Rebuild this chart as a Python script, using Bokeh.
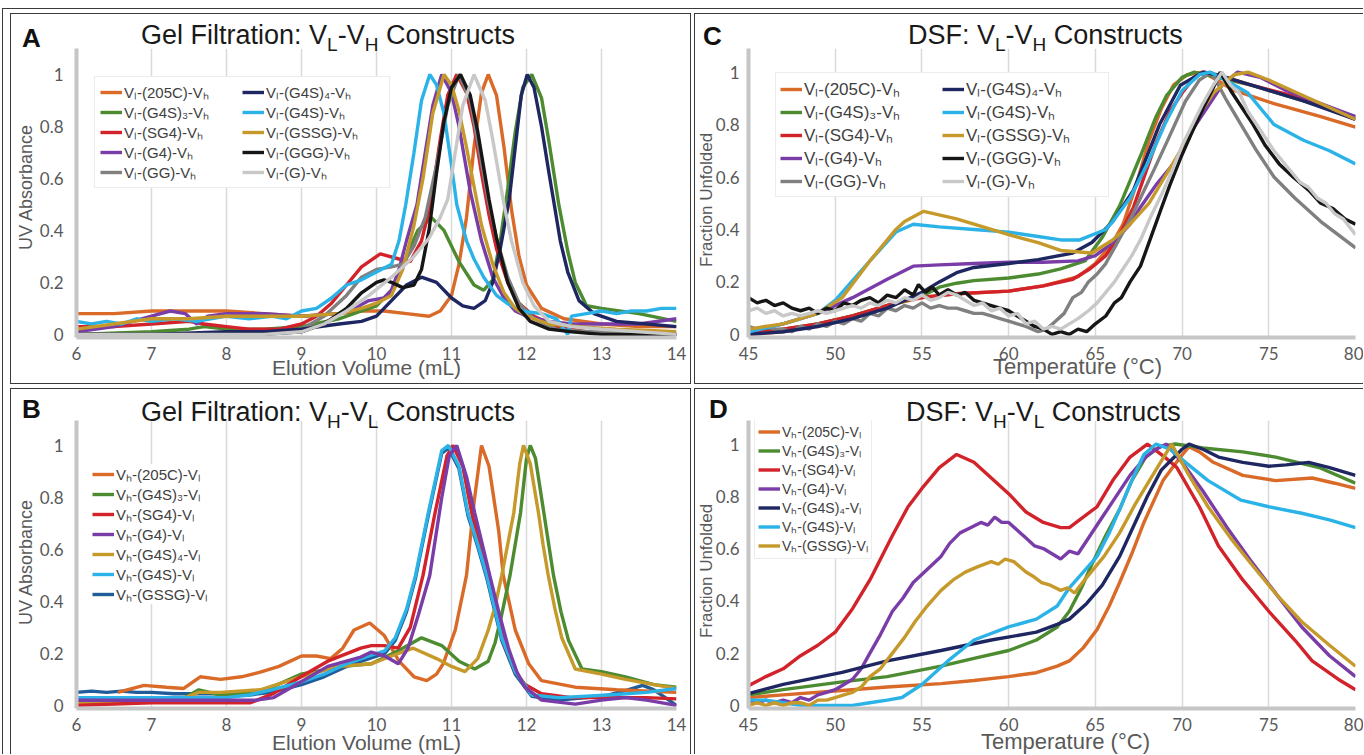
from bokeh.plotting import figure
from bokeh.models import Legend, LegendItem, FixedTicker, Range1d, CustomJSTickFormatter, Div, GridBox
from bokeh.embed import file_html
from bokeh.resources import INLINE

# ---------------- text ----------------
SL, SH, S3, S4 = "\u2097", "\u2095", "\u2083", "\u2084"
LINK_A = ["(205C)", "(G4S)" + S3, "(SG4)", "(G4)", "(GG)", "(G4S)" + S4, "(G4S)", "(GSSG)", "(GGG)", "(G)"]
LINK_B = ["(205C)", "(G4S)" + S3, "(SG4)", "(G4)", "(G4S)" + S4, "(G4S)", "(GSSG)"]
TITLE_GF = "Gel Filtration: "
TITLE_DSF = "DSF: "
TITLE_END = " Constructs"
GF_XLABEL = "Elution Volume (mL)"
GF_YLABEL = "UV Absorbance"
DSF_XLABEL = "Temperature (\u00b0C)"
DSF_YLABEL = "Fraction Unfolded"
PANEL_LETTERS = ["A", "B", "C", "D"]
GF_XTICKS = [6, 7, 8, 9, 10, 11, 12, 13, 14]
DSF_XTICKS = [45, 50, 55, 60, 65, 70, 75, 80]
Y_TICKS = [0, 0.2, 0.4, 0.6, 0.8, 1.0]

# ---------------- colours ----------------
ORANGE, GREEN, RED, PURPLE = "#DA6A28", "#4D8B31", "#D2232A", "#7A3DA8"
GRAY, NAVY, CYAN, GOLD = "#808080", "#1E2761", "#2BB3E8", "#C6992B"
BLACK, LGRAY, DBLUE = "#161616", "#C8C8C8", "#1F5C99"

# ---------------- A: gel filtration VL-VH (elution mL, absorbance) ----------------
A_205C = [(6,0.08),(6.5,0.08),(7,0.09),(7.5,0.09),(8,0.09),(8.5,0.08),(9,0.07),(9.5,0.08),(9.8,0.09),(10.1,0.09),(10.4,0.08),(10.7,0.07),(10.85,0.09),(11.0,0.15),(11.1,0.27),(11.2,0.45),(11.3,0.72),(11.4,0.93),(11.49,1.0),(11.6,0.92),(11.7,0.72),(11.8,0.48),(11.9,0.30),(12.0,0.19),(12.2,0.10),(12.5,0.06),(13.0,0.04),(13.5,0.03),(14,0.03)]
A_G4S3 = [(6,0.0),(7,0.01),(7.5,0.02),(7.7,0.03),(8,0.02),(8.5,0.02),(9,0.03),(9.5,0.06),(9.8,0.09),(10.0,0.11),(10.2,0.17),(10.4,0.30),(10.55,0.40),(10.73,0.45),(10.9,0.40),(11.1,0.28),(11.3,0.19),(11.43,0.17),(11.55,0.21),(11.65,0.36),(11.75,0.56),(11.85,0.78),(11.95,0.95),(12.07,1.0),(12.2,0.91),(12.3,0.74),(12.43,0.5),(12.55,0.32),(12.65,0.2),(12.8,0.11),(13.0,0.10),(13.5,0.08),(14,0.05)]
A_SG4 = [(6,0.03),(6.5,0.03),(7,0.04),(7.5,0.05),(7.7,0.04),(8.0,0.03),(8.3,0.02),(8.7,0.02),(9.0,0.04),(9.2,0.07),(9.4,0.12),(9.6,0.19),(9.8,0.26),(10.05,0.31),(10.3,0.29),(10.45,0.28),(10.6,0.36),(10.72,0.50),(10.85,0.75),(10.95,0.92),(11.07,1.0),(11.2,0.93),(11.3,0.80),(11.4,0.62),(11.5,0.46),(11.6,0.33),(11.75,0.20),(11.9,0.12),(12.1,0.07),(12.4,0.03),(12.8,0.01),(13.5,0.0),(14,0.0)]
A_G4 = [(6,0.01),(6.5,0.03),(7.0,0.07),(7.25,0.09),(7.45,0.08),(7.6,0.04),(7.75,0.07),(8.0,0.08),(8.5,0.08),(9.0,0.07),(9.5,0.08),(9.7,0.10),(9.9,0.13),(10.1,0.14),(10.2,0.17),(10.3,0.25),(10.4,0.36),(10.54,0.5),(10.65,0.7),(10.75,0.88),(10.87,1.0),(11.0,0.93),(11.1,0.80),(11.25,0.55),(11.4,0.36),(11.55,0.22),(11.7,0.14),(11.85,0.09),(12.0,0.07),(12.3,0.05),(12.6,0.04),(13.0,0.04),(13.5,0.04),(14,0.06)]
A_GG = [(6,0.0),(8.5,0.0),(9.0,0.02),(9.3,0.07),(9.6,0.15),(9.8,0.22),(10.0,0.25),(10.2,0.26),(10.35,0.27),(10.5,0.34),(10.65,0.45),(10.8,0.65),(10.95,0.88),(11.1,1.0),(11.25,0.90),(11.4,0.66),(11.5,0.50),(11.6,0.37),(11.75,0.22),(11.9,0.12),(12.1,0.06),(12.4,0.02),(12.8,0.01),(13.5,0.01),(14,0.0)]
A_G4S4 = [(6,0.0),(7,0.0),(8,0.01),(8.5,0.01),(9.0,0.02),(9.5,0.04),(9.8,0.05),(10.0,0.07),(10.2,0.13),(10.4,0.19),(10.6,0.22),(10.8,0.20),(11.0,0.14),(11.15,0.11),(11.3,0.10),(11.45,0.13),(11.55,0.20),(11.65,0.33),(11.77,0.52),(11.85,0.72),(11.93,0.92),(12.01,1.0),(12.1,0.95),(12.2,0.80),(12.3,0.62),(12.37,0.5),(12.45,0.36),(12.55,0.24),(12.7,0.13),(12.9,0.08),(13.2,0.05),(13.6,0.04),(14,0.03)]
A_G4S = [(6.0,0.05),(6.2,0.04),(6.4,0.05),(6.6,0.04),(6.8,0.06),(7.0,0.05),(7.3,0.06),(7.6,0.05),(8.0,0.07),(8.3,0.06),(8.6,0.07),(8.8,0.06),(9.0,0.09),(9.2,0.10),(9.4,0.14),(9.6,0.19),(9.8,0.21),(10.0,0.24),(10.2,0.27),(10.3,0.36),(10.39,0.5),(10.5,0.70),(10.6,0.90),(10.71,1.0),(10.8,0.96),(10.9,0.85),(11.0,0.65),(11.07,0.5),(11.2,0.36),(11.3,0.29),(11.43,0.22),(11.6,0.15),(11.74,0.12),(11.94,0.09),(12.2,0.08),(12.4,0.06),(12.5,0.02),(12.55,0.0),(12.6,0.07),(12.8,0.08),(13.0,0.09),(13.2,0.08),(13.4,0.09),(13.6,0.09),(13.8,0.10),(14.0,0.10)]
A_GSSG = [(6,0.02),(6.5,0.04),(7.0,0.06),(7.5,0.06),(8.0,0.07),(8.5,0.07),(9.0,0.07),(9.5,0.08),(9.8,0.10),(10.0,0.12),(10.2,0.15),(10.35,0.25),(10.5,0.42),(10.62,0.6),(10.75,0.85),(10.9,1.0),(11.0,0.96),(11.1,0.86),(11.2,0.72),(11.3,0.57),(11.4,0.42),(11.55,0.27),(11.7,0.16),(11.85,0.10),(12.0,0.07),(12.3,0.04),(12.7,0.03),(13.2,0.02),(14,0.01)]
A_GGG = [(6,0.0),(8.5,0.0),(9.0,0.01),(9.3,0.04),(9.6,0.10),(9.8,0.16),(10.0,0.20),(10.1,0.21),(10.2,0.20),(10.35,0.18),(10.5,0.19),(10.6,0.25),(10.7,0.40),(10.8,0.62),(10.9,0.82),(11.0,0.95),(11.12,1.0),(11.25,0.92),(11.35,0.78),(11.5,0.52),(11.6,0.37),(11.75,0.20),(11.9,0.10),(12.05,0.05),(12.3,0.02),(12.6,0.01),(13,0.0),(14,0.0)]
A_G = [(6,0.0),(8.5,0.0),(9.0,0.01),(9.3,0.04),(9.6,0.09),(9.9,0.15),(10.2,0.22),(10.5,0.30),(10.7,0.37),(10.85,0.45),(10.95,0.52),(11.05,0.70),(11.15,0.88),(11.3,1.0),(11.45,0.90),(11.55,0.75),(11.7,0.5),(11.8,0.36),(11.95,0.20),(12.1,0.11),(12.3,0.05),(12.6,0.03),(13,0.02),(13.5,0.01),(14,0.0)]

# ---------------- B: gel filtration VH-VL ----------------
B_205C = [(6.55,0.05),(6.9,0.077),(7.2,0.07),(7.43,0.065),(7.65,0.11),(7.92,0.10),(8.2,0.11),(8.45,0.128),(8.7,0.15),(9.0,0.19),(9.2,0.19),(9.39,0.18),(9.55,0.22),(9.7,0.29),(9.91,0.317),(10.1,0.27),(10.3,0.17),(10.5,0.11),(10.67,0.095),(10.8,0.12),(10.89,0.16),(11.05,0.29),(11.2,0.5),(11.3,0.78),(11.4,1.0),(11.5,0.92),(11.63,0.67),(11.69,0.5),(11.85,0.29),(12.03,0.16),(12.2,0.095),(12.65,0.07),(13.2,0.06),(14.0,0.05)]
B_G4S3 = [(6.0,0.013),(7.0,0.02),(7.45,0.03),(7.63,0.06),(7.92,0.04),(8.45,0.05),(8.99,0.12),(9.56,0.15),(9.93,0.16),(10.29,0.21),(10.6,0.26),(10.87,0.23),(11.1,0.17),(11.31,0.14),(11.49,0.17),(11.58,0.24),(11.67,0.35),(11.78,0.5),(11.92,0.74),(12.0,0.95),(12.05,1.0),(12.12,0.95),(12.2,0.8),(12.28,0.65),(12.36,0.5),(12.46,0.36),(12.56,0.25),(12.74,0.14),(13.0,0.13),(13.32,0.11),(13.7,0.08),(14.0,0.07)]
B_SG4 = [(6.0,0.0),(7.0,0.01),(8.0,0.01),(8.32,0.01),(8.63,0.046),(8.99,0.11),(9.35,0.17),(9.79,0.22),(9.93,0.23),(10.1,0.23),(10.29,0.22),(10.45,0.30),(10.62,0.5),(10.78,0.74),(10.94,0.96),(11.02,1.0),(11.15,0.92),(11.27,0.74),(11.38,0.62),(11.49,0.5),(11.6,0.36),(11.71,0.23),(11.85,0.13),(11.98,0.08),(12.2,0.045),(12.6,0.03),(13.1,0.03),(13.6,0.03),(14.0,0.025)]
B_G4 = [(6.0,0.02),(7.0,0.02),(8.0,0.02),(8.4,0.02),(8.63,0.03),(8.99,0.09),(9.35,0.15),(9.79,0.186),(9.93,0.205),(10.11,0.19),(10.29,0.16),(10.42,0.22),(10.56,0.35),(10.71,0.5),(10.87,0.8),(10.97,0.96),(11.07,1.0),(11.2,0.88),(11.31,0.74),(11.41,0.62),(11.51,0.5),(11.63,0.36),(11.76,0.22),(11.87,0.13),(11.98,0.07),(12.2,0.02),(12.65,0.005),(13.0,0.02),(13.32,0.03),(13.6,0.02),(14.0,0.0)]
B_G4S4 = [(6.0,0.01),(7.0,0.02),(7.45,0.03),(7.63,0.05),(7.92,0.05),(8.45,0.06),(8.99,0.11),(9.5,0.15),(9.93,0.16),(10.2,0.19),(10.49,0.22),(10.8,0.18),(11.0,0.15),(11.18,0.13),(11.35,0.18),(11.49,0.29),(11.58,0.38),(11.67,0.5),(11.83,0.74),(11.91,0.93),(11.96,1.0),(12.05,0.93),(12.16,0.74),(12.22,0.62),(12.29,0.5),(12.38,0.37),(12.47,0.26),(12.65,0.14),(13.0,0.12),(13.32,0.10),(13.7,0.08),(14.0,0.065)]
B_G4S = [(6.0,0.03),(6.5,0.03),(7.0,0.03),(7.5,0.03),(8.0,0.03),(8.3,0.04),(8.6,0.06),(9.0,0.09),(9.3,0.12),(9.6,0.16),(9.9,0.19),(10.11,0.21),(10.25,0.26),(10.4,0.37),(10.52,0.5),(10.69,0.74),(10.87,0.98),(10.96,1.0),(11.1,0.92),(11.22,0.74),(11.35,0.62),(11.47,0.5),(11.57,0.38),(11.67,0.26),(11.85,0.13),(12.07,0.04),(12.43,0.03),(13.1,0.04),(13.6,0.05),(14.0,0.065)]
B_GSSG = [(6.0,0.05),(6.2,0.055),(6.4,0.05),(6.6,0.055),(6.8,0.05),(7.0,0.05),(7.3,0.045),(7.6,0.045),(8.0,0.045),(8.3,0.04),(8.6,0.05),(9.0,0.08),(9.3,0.11),(9.6,0.15),(9.9,0.18),(10.11,0.20),(10.25,0.25),(10.4,0.36),(10.52,0.49),(10.69,0.73),(10.87,0.97),(10.96,0.99),(11.1,0.91),(11.22,0.73),(11.35,0.61),(11.47,0.49),(11.57,0.37),(11.67,0.25),(11.85,0.12),(12.07,0.035),(12.43,0.02),(12.8,0.03),(13.1,0.04),(13.35,0.06),(13.55,0.077),(13.7,0.06),(13.85,0.03),(14.0,0.0)]

# ---------------- C: DSF VL-VH (temperature C, fraction unfolded) ----------------
C_205C = [(45,0.0),(47,0.01),(49,0.04),(51,0.07),(53,0.11),(55,0.14),(57,0.155),(60,0.165),(62,0.185),(64,0.22),(65,0.27),(66,0.35),(66.6,0.42),(67.4,0.58),(68.1,0.74),(68.8,0.86),(69.5,0.95),(70.3,0.99),(71.2,1.0),(72,0.97),(73,0.93),(75.3,0.88),(78,0.83),(80,0.79)]
C_G4S3 = [(45,0.01),(47,0.02),(49,0.04),(51,0.07),(53,0.11),(55,0.145),(56,0.18),(57,0.195),(58,0.205),(60,0.215),(61.7,0.23),(63,0.25),(64.4,0.28),(65.4,0.37),(66.4,0.49),(67.6,0.68),(68.5,0.83),(69.1,0.91),(70,0.98),(70.7,1.0),(72,0.98),(74,0.95),(77,0.89),(80,0.83)]
C_SG4 = [(45,0.0),(47,0.02),(49,0.04),(51,0.07),(52.5,0.10),(54,0.13),(55.5,0.145),(57,0.155),(60,0.165),(62,0.185),(63.7,0.21),(64.7,0.25),(65.6,0.30),(66.4,0.38),(67.2,0.485),(68.5,0.73),(69.3,0.85),(70,0.92),(70.7,0.98),(71.3,1.0),(72.5,0.98),(74,0.95),(77,0.90),(80,0.82)]
C_G4 = [(45,0.01),(47,0.04),(49,0.08),(51,0.14),(53,0.21),(54.5,0.26),(56,0.265),(58,0.27),(60,0.275),(62,0.275),(64,0.28),(65,0.30),(66,0.35),(67,0.42),(67.6,0.485),(68.5,0.57),(69.5,0.65),(70.5,0.77),(71.4,0.86),(72.3,0.95),(73.2,1.0),(74.5,0.98),(76,0.93),(78,0.88),(80,0.83)]
C_GG = [(45,0.03),(45.5,0.02),(46,0.03),(46.5,0.02),(47,0.02),(47.5,0.01),(48,0.03),(48.5,0.02),(49,0.04),(49.5,0.03),(50,0.05),(50.5,0.04),(51,0.06),(51.5,0.05),(52,0.08),(52.5,0.07),(53,0.10),(53.5,0.09),(54,0.11),(54.5,0.10),(55,0.12),(55.5,0.10),(56,0.11),(56.5,0.10),(57,0.10),(57.5,0.09),(58,0.08),(58.5,0.08),(59,0.07),(59.5,0.06),(60,0.05),(60.5,0.04),(61,0.03),(61.7,0.01),(62.2,0.02),(62.7,0.05),(63.2,0.08),(63.7,0.14),(64.2,0.16),(64.6,0.20),(65.1,0.23),(65.6,0.27),(66.1,0.33),(66.6,0.39),(67.1,0.45),(67.6,0.52),(68.4,0.63),(69.1,0.73),(70.2,0.89),(71,0.97),(71.7,1.0),(72.5,0.90),(73.4,0.80),(74.3,0.70),(75.3,0.60),(76.5,0.52),(78,0.43),(80,0.33)]
C_G4S4 = [(45,0.0),(47,0.01),(49,0.03),(51,0.06),(53,0.10),(55,0.16),(56,0.20),(57,0.235),(58,0.255),(60,0.27),(61.7,0.285),(63.7,0.31),(64.8,0.35),(66,0.43),(67.2,0.55),(68.7,0.80),(69.9,0.95),(71.2,1.0),(72,0.99),(73,0.97),(75,0.93),(77,0.89),(80,0.82)]
C_G4S = [(45,0.01),(47,0.04),(49,0.08),(50,0.13),(52,0.28),(53.5,0.39),(54.5,0.42),(56,0.41),(58,0.40),(60,0.39),(61.7,0.373),(63,0.36),(64.1,0.36),(65.6,0.40),(66,0.43),(67,0.52),(68,0.65),(69,0.80),(70,0.93),(71,0.99),(71.6,1.0),(72.5,0.97),(73.8,0.92),(75.3,0.80),(77,0.74),(78.5,0.70),(80,0.65)]
C_GSSG = [(45,0.02),(47,0.04),(49,0.08),(50.4,0.14),(52,0.28),(53.5,0.40),(54,0.43),(55.1,0.469),(57,0.44),(59,0.40),(60,0.38),(61.7,0.35),(63,0.32),(64.8,0.31),(66,0.36),(67,0.42),(68.1,0.50),(69,0.60),(69.9,0.70),(71,0.84),(71.8,0.92),(73,0.99),(73.8,1.0),(75,0.97),(77,0.91),(79,0.85),(80,0.82)]
C_GGG = [(45,0.14),(45.5,0.12),(46,0.13),(46.5,0.11),(47,0.12),(47.5,0.10),(48,0.09),(48.5,0.10),(49,0.08),(49.5,0.10),(50,0.09),(50.5,0.12),(51,0.11),(51.5,0.13),(52,0.14),(52.5,0.12),(53,0.15),(53.5,0.14),(54,0.17),(54.5,0.15),(54.8,0.19),(55.2,0.16),(55.6,0.18),(56,0.15),(56.5,0.17),(57,0.15),(57.5,0.16),(58,0.13),(58.5,0.12),(59,0.11),(59.5,0.10),(60,0.09),(60.5,0.07),(61,0.05),(61.5,0.03),(62,0.02),(62.5,0.0),(63,0.01),(63.5,0.0),(64,0.02),(64.5,0.01),(65,0.04),(65.6,0.07),(66.1,0.12),(66.5,0.14),(67,0.20),(67.6,0.26),(68.2,0.37),(68.8,0.48),(69.3,0.57),(69.9,0.67),(70.5,0.76),(71.2,0.86),(71.8,0.94),(72.2,1.0),(72.8,0.93),(73.4,0.87),(74.1,0.80),(74.8,0.72),(75.6,0.65),(76.4,0.60),(77.3,0.55),(78,0.50),(78.7,0.48),(79.4,0.44),(80,0.42)]
C_G = [(45,0.09),(45.5,0.10),(46,0.08),(46.5,0.09),(47,0.07),(47.5,0.08),(48,0.07),(48.5,0.08),(49,0.09),(49.5,0.08),(50,0.09),(50.5,0.10),(51,0.11),(51.5,0.10),(52,0.12),(52.5,0.11),(53,0.13),(53.5,0.12),(54,0.14),(54.5,0.13),(55,0.15),(55.5,0.13),(56,0.14),(56.5,0.16),(57,0.15),(57.5,0.13),(58,0.11),(58.5,0.12),(59,0.09),(59.5,0.10),(60,0.07),(60.5,0.08),(61,0.04),(61.5,0.05),(62,0.02),(62.5,0.03),(63,0.02),(63.5,0.04),(64,0.06),(64.6,0.09),(65.1,0.12),(65.6,0.16),(66.1,0.20),(66.6,0.25),(67.1,0.30),(67.6,0.36),(68.2,0.45),(68.8,0.53),(69.4,0.62),(70,0.72),(70.6,0.80),(71.2,0.88),(71.8,0.95),(72.3,1.0),(72.8,0.95),(73.3,0.92),(73.8,0.85),(74.3,0.80),(74.8,0.75),(75.3,0.70),(75.8,0.66),(76.3,0.62),(76.8,0.58),(77.3,0.56),(77.8,0.52),(78.3,0.50),(78.8,0.46),(79.3,0.44),(80,0.38)]

# ---------------- D: DSF VH-VL ----------------
D_205C = [(45,0.03),(47,0.04),(50.4,0.057),(53,0.07),(56.1,0.083),(58,0.095),(60,0.11),(61.6,0.125),(62.8,0.15),(63.5,0.17),(64.3,0.22),(65.1,0.29),(65.8,0.38),(66.4,0.47),(67.1,0.58),(67.8,0.70),(68.9,0.86),(69.9,0.95),(70.4,0.99),(71.0,0.97),(71.8,0.93),(73.5,0.88),(75.4,0.86),(77.5,0.87),(78.8,0.85),(80,0.83)]
D_G4S3 = [(45,0.04),(47,0.06),(50.4,0.09),(53,0.11),(56.1,0.15),(58,0.18),(60,0.21),(61.6,0.25),(62.8,0.30),(63.5,0.36),(64.2,0.45),(64.8,0.54),(65.6,0.65),(66.4,0.75),(67.1,0.86),(67.9,0.95),(68.7,0.99),(69.6,1.0),(71.2,0.985),(73.5,0.97),(75.4,0.95),(77.9,0.91),(80,0.85)]
D_SG4 = [(45,0.075),(46,0.11),(47,0.14),(48,0.19),(49,0.23),(50,0.28),(51,0.37),(52,0.48),(53.3,0.65),(54.2,0.76),(55,0.83),(56,0.91),(57,0.96),(58,0.93),(59,0.87),(60,0.81),(61,0.74),(62,0.70),(63,0.68),(63.5,0.68),(64.3,0.72),(65.1,0.76),(66,0.86),(67,0.95),(68,1.0),(69,0.95),(69.7,0.91),(71,0.76),(72.1,0.61),(73.5,0.48),(75,0.36),(76.5,0.25),(77.5,0.17),(79,0.10),(80,0.06)]
D_G4 = [(45,0.02),(45.5,0.01),(46,0.02),(46.5,0.01),(47,0.02),(47.5,0.01),(48,0.03),(48.5,0.02),(49,0.04),(49.5,0.05),(50,0.06),(50.5,0.08),(51,0.10),(51.5,0.14),(52,0.20),(52.6,0.27),(53.3,0.36),(53.9,0.41),(54.5,0.47),(55.3,0.52),(56.1,0.57),(56.6,0.62),(57.2,0.66),(57.8,0.68),(58.4,0.70),(58.8,0.69),(59.2,0.72),(59.6,0.70),(60,0.70),(60.5,0.67),(61,0.64),(61.5,0.61),(62,0.60),(62.5,0.58),(63,0.56),(63.5,0.59),(64,0.58),(64.5,0.63),(65.3,0.71),(66.1,0.79),(67,0.88),(67.9,0.95),(68.5,0.98),(69.1,1.0),(70,0.93),(71.2,0.82),(72.6,0.68),(74,0.55),(75.5,0.42),(76.9,0.30),(78.5,0.19),(80,0.11)]
D_G4S4 = [(45,0.045),(47,0.08),(50.4,0.126),(53,0.17),(56.1,0.21),(59,0.25),(61.6,0.28),(62.8,0.31),(63.5,0.33),(64.5,0.39),(65.4,0.46),(66.4,0.57),(67.3,0.70),(68,0.80),(68.8,0.90),(70,0.98),(70.4,1.0),(71.2,0.98),(72.1,0.95),(73.5,0.93),(75,0.915),(76,0.92),(77.3,0.93),(78.5,0.91),(80,0.88)]
D_G4S = [(45,0.02),(46,0.02),(47,0.01),(48,0.0),(49,0.0),(50,0.0),(51,0.0),(52,0.01),(53,0.02),(53.85,0.03),(55,0.08),(56.5,0.17),(58,0.25),(60,0.30),(61.6,0.33),(62.8,0.38),(63.5,0.45),(64.3,0.51),(65.1,0.57),(65.8,0.66),(66.4,0.75),(67.1,0.86),(67.8,0.96),(68.5,1.0),(69.3,0.98),(70.2,0.93),(71.5,0.86),(73.4,0.785),(75,0.76),(76.9,0.735),(78.5,0.71),(80,0.68)]
D_GSSG = [(45,0.0),(45.5,0.01),(46,0.0),(46.5,0.01),(47,0.0),(47.5,0.01),(48,0.01),(48.5,0.0),(49,0.02),(49.5,0.02),(50,0.03),(50.5,0.04),(51,0.05),(51.5,0.07),(52,0.11),(52.6,0.14),(53.3,0.20),(54,0.26),(54.6,0.32),(55.3,0.38),(56.1,0.44),(56.8,0.48),(57.5,0.51),(58.2,0.53),(59,0.55),(59.4,0.54),(59.8,0.56),(60.3,0.55),(61,0.51),(61.5,0.49),(61.9,0.47),(62.4,0.46),(63,0.44),(63.4,0.45),(63.8,0.43),(64.5,0.49),(65.5,0.57),(66.4,0.66),(67.3,0.77),(68.3,0.88),(69.4,1.0),(70.4,0.88),(71.5,0.76),(72.8,0.64),(74,0.54),(75.5,0.42),(76.9,0.32),(78.5,0.23),(80,0.15)]

# ---------------- style ----------------
FONT_CSS = "'Liberation Sans', Arial, Helvetica, sans-serif"
TICK_FONT = "Lato, sans-serif"
LEG_FONT = "Liberation Sans, Arial, sans-serif"
AXIS_GRAY = "#595959"
BORDER = "1.5px solid #3a3a3a"
LINE_W = 3.4


def make_panel(width, height, xr, yr, borders, xticks, ystand):
    left, right, top, bottom = borders
    p = figure(width=width, height=height, x_range=Range1d(*xr), y_range=Range1d(*yr),
               output_backend="svg", toolbar_location=None,
               min_border_left=left, min_border_right=right,
               min_border_top=top, min_border_bottom=bottom)
    p.xaxis.ticker = FixedTicker(ticks=xticks)
    p.yaxis.ticker = FixedTicker(ticks=Y_TICKS)
    p.yaxis.formatter = CustomJSTickFormatter(code="return tick.toString();")
    for ax in (p.xaxis[0], p.yaxis[0]):
        ax.axis_line_color = "#C6C6C6"
        ax.axis_line_width = 4
        ax.major_tick_line_color = None
        ax.minor_tick_line_color = None
        ax.major_label_text_font = TICK_FONT
        ax.major_label_text_font_size = "17px"
        ax.major_label_text_color = AXIS_GRAY
    p.xaxis.major_label_standoff = 3
    p.yaxis.major_label_standoff = ystand
    p.xgrid.grid_line_color = "#D9D9D9"
    p.xgrid.grid_line_width = 1.5
    p.ygrid.grid_line_color = None
    p.outline_line_color = None
    p.background_fill_color = "white"
    p.border_fill_color = "white"
    return p


def add_series(p, series, draw_order):
    rends = {}
    for i in draw_order:
        lbl, color, pts = series[i]
        rends[i] = p.line([a for a, b in pts], [b for a, b in pts], line_color=color, line_width=LINE_W)
    return [LegendItem(label=series[i][0], renderers=[rends[i]]) for i in range(len(series))]


def add_legend(p, items, loc, ncols, lh, spacing, padding, fsize, border, lw):
    lg = Legend(items=items, location=loc, ncols=ncols, orientation="vertical",
                label_height=lh, glyph_height=lh, glyph_width=22, spacing=spacing,
                padding=padding, margin=0, label_standoff=2, label_width=lw,
                label_text_font=LEG_FONT, label_text_font_size=fsize,
                label_text_color="#404040",
                border_line_color="#D9D9D9" if border else None,
                background_fill_color="white", background_fill_alpha=1.0)
    p.add_layout(lg)


def sub(t, fs):
    return ('<span style="font-size:%dpx;vertical-align:-%dpx;line-height:0;">%s</span>'
            % (round(fs * 0.7), round(fs * 0.27), t))


def html(content, fs, color, weight="normal", lh=None):
    lh = lh or fs
    return ('<div style="font-family:%s;font-size:%dpx;line-height:%dpx;color:%s;'
            'font-weight:%s;white-space:nowrap;">%s</div>'
            % (FONT_CSS, fs, lh, color, weight, content))


def text_div(content, left, top, width, height, rotate=False):
    st = {"z-index": "5"}
    if rotate:
        st["transform"] = "rotate(-90deg)"
        st["transform-origin"] = "0 0"
    return Div(text=content, width=width, height=height, margin=(top, 0, 0, left),
               align="start", styles=st)


def box_div(left, top, width, height, sides):
    css = "".join("border-%s:%s;" % (s, BORDER) for s in sides)
    inner = ('<div style="box-sizing:border-box;width:%dpx;height:%dpx;%s"></div>'
             % (width, height, css))
    return Div(text=inner, width=width, height=height, margin=(top, 0, 0, left),
               align="start", styles={"z-index": "6"})


def vl_vh(link):
    return "V" + SL + "-" + link + "-V" + SH


def vh_vl(link):
    return "V" + SH + "-" + link + "-V" + SL


def title_html(prefix, first, second):
    return html(prefix + "V" + sub(first, 27) + "-V" + sub(second, 27) + TITLE_END,
                27, "#1a1a1a", lh=27)


# ---- panel A (page 0,0) ----
pA = make_panel(691, 385, (6, 14), (-0.012, 1.1), (76, 15, 48, 48), GF_XTICKS, 7)
A_SERIES = [(vl_vh(LINK_A[0]), ORANGE, A_205C), (vl_vh(LINK_A[1]), GREEN, A_G4S3),
            (vl_vh(LINK_A[2]), RED, A_SG4), (vl_vh(LINK_A[3]), PURPLE, A_G4),
            (vl_vh(LINK_A[4]), GRAY, A_GG), (vl_vh(LINK_A[5]), NAVY, A_G4S4),
            (vl_vh(LINK_A[6]), CYAN, A_G4S), (vl_vh(LINK_A[7]), GOLD, A_GSSG),
            (vl_vh(LINK_A[8]), BLACK, A_GGG), (vl_vh(LINK_A[9]), LGRAY, A_G)]
add_legend(pA, add_series(pA, A_SERIES, list(range(10))), (18, 149), 2, 18, 0, 5, "15px", True, 118)

# ---- panel C (page 691,0) ----
pC = make_panel(672, 385, (45, 80), (-0.012, 1.09), (57, 8, 42, 48), DSF_XTICKS, 3)
C_SERIES = [(vl_vh(LINK_A[0]), ORANGE, C_205C), (vl_vh(LINK_A[1]), GREEN, C_G4S3),
            (vl_vh(LINK_A[2]), RED, C_SG4), (vl_vh(LINK_A[3]), PURPLE, C_G4),
            (vl_vh(LINK_A[4]), GRAY, C_GG), (vl_vh(LINK_A[5]), NAVY, C_G4S4),
            (vl_vh(LINK_A[6]), CYAN, C_G4S), (vl_vh(LINK_A[7]), GOLD, C_GSSG),
            (vl_vh(LINK_A[8]), BLACK, C_GGG), (vl_vh(LINK_A[9]), LGRAY, C_G)]
add_legend(pC, add_series(pC, C_SERIES, list(range(10))), (27, 140), 2, 20, 0, 4, "17px", True, 138)

# ---- panel B (page 0,385) ----
pB = make_panel(691, 369, (6, 14), (-0.012, 1.096), (76, 15, 35, 46), GF_XTICKS, 7)
B_SERIES = [(vh_vl(LINK_B[0]), ORANGE, B_205C), (vh_vl(LINK_B[1]), GREEN, B_G4S3),
            (vh_vl(LINK_B[2]), RED, B_SG4), (vh_vl(LINK_B[3]), PURPLE, B_G4),
            (vh_vl(LINK_B[4]), GOLD, B_G4S4), (vh_vl(LINK_B[5]), CYAN, B_G4S),
            (vh_vl(LINK_B[6]), DBLUE, B_GSSG)]
add_legend(pB, add_series(pB, B_SERIES, [6, 0, 1, 4, 2, 5, 3]), (16, 104), 1, 18, 0, 4, "15px", False, 20)

# ---- panel D (page 691,385) ----
pD = make_panel(672, 369, (45, 80), (-0.012, 1.09), (57, 8, 30, 44), DSF_XTICKS, 3)
D_SERIES = [(vh_vl(LINK_B[0]), ORANGE, D_205C), (vh_vl(LINK_B[1]), GREEN, D_G4S3),
            (vh_vl(LINK_B[2]), RED, D_SG4), (vh_vl(LINK_B[3]), PURPLE, D_G4),
            (vh_vl(LINK_B[4]), NAVY, D_G4S4), (vh_vl(LINK_B[5]), CYAN, D_G4S),
            (vh_vl(LINK_B[6]), GOLD, D_GSSG)]
add_legend(pD, add_series(pD, D_SERIES, list(range(7))), (6, 149), 1, 17, 0, 3, "14px", True, 20)

# ---- overlaid text and panel frames (positions relative to each panel cell) ----
letter = lambda s: html(s, 26, "#111111", weight="bold", lh=26)
xlab = lambda s, fs: html(s, fs, AXIS_GRAY, lh=fs)
ylab = lambda s, fs: html(s, fs, AXIS_GRAY, lh=24)

children = [(pA, 0, 0), (pC, 0, 1), (pB, 1, 0), (pD, 1, 1)]
children += [
    (box_div(2, 8, 1361, 746, ["top", "left"]), 0, 0, 2, 2),
    (box_div(10, 13, 681, 371, ["top", "left", "right", "bottom"]), 0, 0),
    (box_div(3, 13, 669, 371, ["top", "left", "bottom"]), 0, 1),
    (box_div(10, 3, 681, 366, ["top", "left", "right"]), 1, 0),
    (box_div(3, 3, 669, 366, ["top", "left"]), 1, 1),
    # A
    (text_div(title_html(TITLE_GF, "L", "H"), 141, 22, 420, 30), 0, 0),
    (text_div(letter(PANEL_LETTERS[0]), 22, 25, 30, 28), 0, 0),
    (text_div(xlab(GF_XLABEL, 21), 272, 357, 260, 22), 0, 0),
    (text_div(ylab(GF_YLABEL, 18), 14, 250, 200, 24, rotate=True), 0, 0),
    # C
    (text_div(title_html(TITLE_DSF, "L", "H"), 217, 22, 330, 30), 0, 1),
    (text_div(letter(PANEL_LETTERS[2]), 12, 23, 30, 28), 0, 1),
    (text_div(xlab(DSF_XLABEL, 22), 302, 356, 220, 23), 0, 1),
    (text_div(ylab(DSF_YLABEL, 17), 4, 267, 200, 24, rotate=True), 0, 1),
    # B
    (text_div(title_html(TITLE_GF, "H", "L"), 141, 14, 420, 30), 1, 0),
    (text_div(letter(PANEL_LETTERS[1]), 22, 11, 30, 28), 1, 0),
    (text_div(xlab(GF_XLABEL, 21), 272, 347, 260, 21), 1, 0),
    (text_div(ylab(GF_YLABEL, 18), 14, 240, 200, 24, rotate=True), 1, 0),
    # D
    (text_div(title_html(TITLE_DSF, "H", "L"), 215, 14, 330, 30), 1, 1),
    (text_div(letter(PANEL_LETTERS[3]), 18, 11, 30, 28), 1, 1),
    (text_div(xlab(DSF_XLABEL, 22), 290, 346, 220, 22), 1, 1),
    (text_div(ylab(DSF_YLABEL, 17), 4, 253, 200, 24, rotate=True), 1, 1),
]

layout = GridBox(children=children, spacing=0)

open("out.html", "w").write(file_html(layout, INLINE, "Linker constructs"))
